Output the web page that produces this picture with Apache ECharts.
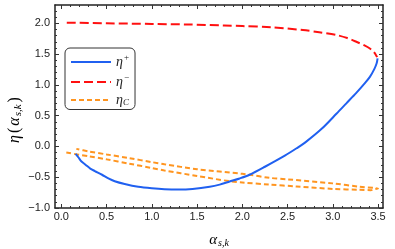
<!DOCTYPE html>
<html><head><meta charset="utf-8">
<script src="https://cdn.jsdelivr.net/npm/echarts@6/dist/echarts.min.js"></script>
<style>html,body{margin:0;padding:0;background:#fff}#c{width:395px;height:249px}</style>
</head><body><div id="c"></div>
<script>
const xMajorTicks = [0, 0.5, 1, 1.5, 2, 2.5, 3, 3.5];
const yMajorTicks = [-1, -0.5, 0, 0.5, 1, 1.5, 2];
const etaPlus = [[0.158,-0.12],[0.19,-0.18],[0.22,-0.24],[0.27,-0.30],[0.32,-0.36],[0.37,-0.40],[0.45,-0.46],[0.52,-0.52],[0.59,-0.565],[0.7,-0.61],[0.85,-0.655],[1.0,-0.68],[1.14,-0.695],[1.3,-0.70],[1.45,-0.69],[1.64,-0.655],[1.75,-0.62],[1.86,-0.57],[1.97,-0.52],[2.08,-0.46],[2.25,-0.33],[2.47,-0.15],[2.6,-0.03],[2.7,0.07],[2.88,0.29],[3.04,0.53],[3.15,0.70],[3.26,0.87],[3.35,1.02],[3.41,1.13],[3.46,1.26],[3.485,1.35],[3.495,1.43]];
const etaMinus = [[0.06,2.01],[0.5,2.0],[1.0,1.99],[1.4,1.98],[1.8,1.965],[2.0,1.955],[2.32,1.935],[2.67,1.89],[2.85,1.855],[3.04,1.81],[3.16,1.76],[3.26,1.70],[3.35,1.64],[3.41,1.59],[3.45,1.54],[3.475,1.49],[3.49,1.45]];
const etaC = [[0.055,-0.10],[0.3,-0.16],[0.5,-0.21],[0.75,-0.28],[1.0,-0.35],[1.14,-0.39],[1.5,-0.48],[1.86,-0.565],[2.0,-0.585],[2.3,-0.62],[2.6,-0.65],[3.0,-0.69],[3.3,-0.705],[3.42,-0.71],[3.47,-0.69],[3.5,-0.685],[3.46,-0.675],[3.3,-0.655],[3.0,-0.60],[2.5,-0.535],[2.3,-0.51],[2.08,-0.46],[2.0,-0.445],[1.5,-0.37],[1.14,-0.29],[1.0,-0.255],[0.75,-0.19],[0.5,-0.13],[0.3,-0.08],[0.166,-0.04]];
const seriesNames = ['η+', 'η−', 'ηC'];

const X_MIN = -0.07, X_MAX = 3.555, Y_MIN = -1, Y_MAX = 2.297;
function minor(lo, hi, majors) {
  const out = [];
  for (let i = Math.round(lo * 10); i <= Math.round(hi * 10); i++) {
    const v = i / 10;
    if (!majors.some(m => Math.abs(m - v) < 1e-9)) out.push(v);
  }
  return out;
}
const xMinor = minor(0, 3.5, xMajorTicks);
const yMinor = minor(-1, 2.2, yMajorTicks);
const fmt = v => (v < 0 ? '−' : '') + Math.abs(v).toFixed(1);
const labelStyle = {fontFamily: 'Liberation Sans', fontSize: 11, color: '#222'};

function ax(min, max, pos, ticks, len, showLabel, margin, showLine) {
  return {
    type: 'value', position: pos, min: min, max: max,
    axisLine: {show: showLine, onZero: false, lineStyle: {color: '#222', width: 1.5}},
    axisTick: {show: true, inside: true, length: len, customValues: ticks, lineStyle: {color: '#333', width: 1}},
    axisLabel: Object.assign({show: showLabel, customValues: ticks, formatter: fmt, margin: margin}, labelStyle),
    splitLine: {show: false}
  };
}

const chart = echarts.init(document.getElementById('c'), null, {renderer: 'canvas'});
const serif = 'Liberation Serif';
const rich = {
  e: {fontFamily: serif, fontStyle: 'italic', fontSize: 14, color: '#222'},
  sup: {fontFamily: serif, fontSize: 9, color: '#222', padding: [0, 0, 9, 1]},
  sub: {fontFamily: serif, fontStyle: 'italic', fontSize: 9, color: '#222', padding: [6, 0, 0, 0]}
};
const legendMap = {'η+': '{e|η}{sup|+}', 'η−': '{e|η}{sup|−}', 'ηC': '{e|η}{sub|C}'};

chart.setOption({
  animation: false,
  grid: {left: 55, right: 12, top: 5, bottom: 41},
  xAxis: [
    ax(X_MIN, X_MAX, 'bottom', xMajorTicks, 4, true, 3, true),
    ax(X_MIN, X_MAX, 'bottom', xMinor, 2, false, 3, false),
    ax(X_MIN, X_MAX, 'top', xMajorTicks, 4, false, 3, true),
    ax(X_MIN, X_MAX, 'top', xMinor, 2, false, 3, false)
  ],
  yAxis: [
    ax(Y_MIN, Y_MAX, 'left', yMajorTicks, 4, true, 5, true),
    ax(Y_MIN, Y_MAX, 'left', yMinor, 2, false, 5, false),
    ax(Y_MIN, Y_MAX, 'right', yMajorTicks, 4, false, 5, true),
    ax(Y_MIN, Y_MAX, 'right', yMinor, 2, false, 5, false)
  ],
  legend: {
    orient: 'vertical', left: 65, top: 48,
    backgroundColor: '#fff', borderColor: '#333', borderWidth: 1, borderRadius: 5,
    padding: [5, 6, 2, 5], itemWidth: 40, itemHeight: 10, itemGap: 4,
    data: seriesNames,
    formatter: n => legendMap[n],
    itemStyle: {opacity: 0},
    textStyle: {rich: rich}
  },
  series: [
    {name: seriesNames[0], type: 'line', data: etaPlus, symbol: 'none', smooth: 0.3, z: 3,
     lineStyle: {color: '#2060f0', width: 2}, itemStyle: {color: '#2060f0', opacity: 0}},
    {name: seriesNames[1], type: 'line', data: etaMinus, symbol: 'none', smooth: 0.3, z: 4,
     lineStyle: {color: '#ff1010', width: 2, type: [9, 4]}, itemStyle: {color: '#ff1010', opacity: 0}},
    {name: seriesNames[2], type: 'line', data: etaC, symbol: 'none', smooth: 0.3, z: 2,
     lineStyle: {color: '#ff9520', width: 2, type: [5, 3]}, itemStyle: {color: '#ff9520', opacity: 0}}
  ],
  graphic: [
    {type: 'text', x: 219, y: 240, style: {
      text: '{e|α}{sub|s,k}', align: 'center', verticalAlign: 'middle',
      rich: {e: {fontFamily: serif, fontStyle: 'italic', fontSize: 15, color: '#222'},
             sub: {fontFamily: serif, fontStyle: 'italic', fontSize: 10, color: '#222', padding: [7, 0, 0, 1]}}}},
    {type: 'text', x: 15, y: 119, rotation: Math.PI / 2, style: {
      text: '{e|η}{n|(}{e|α}{sub|s,k}{n|)}', align: 'center', verticalAlign: 'middle',
      rich: {e: {fontFamily: serif, fontStyle: 'italic', fontSize: 16, color: '#222'},
             n: {fontFamily: serif, fontSize: 16, color: '#222', padding: [0, 2, 0, 2]},
             sub: {fontFamily: serif, fontStyle: 'italic', fontSize: 11, color: '#222', padding: [7, 0, 0, 1]}}}}
  ]
});
</script></body></html>
